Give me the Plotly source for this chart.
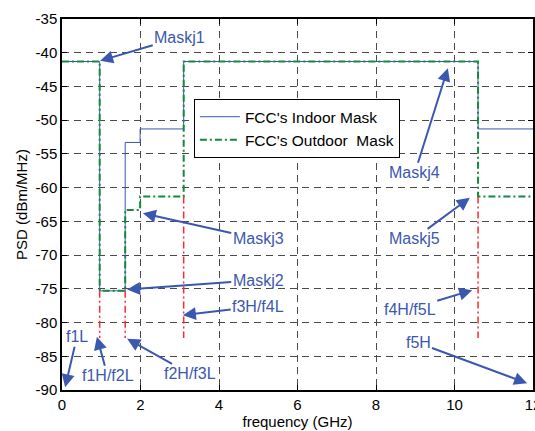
import plotly.graph_objects as go

# Mask data (GHz, dBm/MHz)
freq_edges = [0, 0.96, 1.61, 1.99, 3.1, 10.6, 12]
indoor_psd = [-41.3, -75.3, -53.3, -51.3, -41.3, -51.3, -51.3]
outdoor_psd = [-41.3, -75.3, -63.3, -61.3, -41.3, -61.3, -61.3]

# band-edge markers (red dash-dot verticals)
edge_freq = [0.96, 1.61, 3.1, 10.6]
edge_top = [-75.3, -75.3, -61.3, -61.3]
edge_bottom = [-82.3, -82.3, -82.3, -82.3]

# annotations: label, arrow head (x,y), text center (x,y)
ann_labels = ["Maskj1", "Maskj3", "Maskj2", "f3H/f4L", "f1L", "f1H/f2L", "f2H/f3L",
              "Maskj4", "Maskj5", "f4H/f5L", "f5H"]
ann_head_x = [0.97, 2.06, 1.66, 3.08, 0.08, 0.89, 1.66, 9.83, 10.39, 10.45, 11.85]
ann_head_y = [-41.2, -63.8, -75.1, -78.9, -89.6, -82.1, -82.4, -42.3, -61.5, -75.2, -89.0]
ann_text_x = [3.0, 5.0, 5.0, 5.0, 0.38, 1.16, 3.26, 8.99, 8.97, 8.86, 9.07]
ann_text_y = [-37.7, -67.6, -73.7, -77.6, -82.1, -87.9, -87.6, -57.8, -67.6, -78.0, -83.0]

x_ticks = [0, 2, 4, 6, 8, 10, 12]
x_tick_labels = ["0", "2", "4", "6", "8", "10", "12"]
y_ticks = [-90, -85, -80, -75, -70, -65, -60, -55, -50, -45, -40, -35]
y_tick_labels = ["-90", "-85", "-80", "-75", "-70", "-65", "-60", "-55", "-50", "-45", "-40", "-35"]

BLUE = "#3a58b0"
GREEN = "#138a3c"
RED = "#ff2a2a"
FONT = "Liberation Sans, Arial, Helvetica, sans-serif"

fig = go.Figure()

fig.add_trace(go.Scatter(
    x=freq_edges, y=indoor_psd, mode="lines", line_shape="hv",
    line=dict(color=BLUE, width=1), name="FCC's Indoor Mask"))

fig.add_trace(go.Scatter(
    x=freq_edges, y=outdoor_psd, mode="lines", line_shape="hv",
    line=dict(color=GREEN, width=2, dash="7px,3px,2px,3px"),
    name="FCC's Outdoor\u00a0 Mask"))

rx, ry = [], []
for f, t, b in zip(edge_freq, edge_top, edge_bottom):
    rx += [f, f, None]
    ry += [t, b, None]
fig.add_trace(go.Scatter(
    x=rx, y=ry, mode="lines", line=dict(color=RED, width=1.5, dash="7px,3px,2px,3px"),
    showlegend=False))

for lab, hx, hy, tx, ty in zip(ann_labels, ann_head_x, ann_head_y, ann_text_x, ann_text_y):
    fig.add_annotation(
        x=hx, y=hy, ax=tx, ay=ty, axref="x", ayref="y", xref="x", yref="y",
        text=lab, showarrow=True, arrowhead=2, arrowsize=1.3, arrowwidth=2,
        arrowcolor=BLUE, font=dict(color=BLUE, size=16, family=FONT))

axis_common = dict(
    showline=True, linecolor="black", linewidth=1.5, mirror="ticks",
    ticks="inside", ticklen=5, tickcolor="black",
    showgrid=True, gridcolor="#4a4a4a", griddash="7px,5px", gridwidth=1,
    zeroline=False, tickfont=dict(size=15, color="black", family=FONT),
    ticklabeloverflow="allow", automargin=False)

fig.update_xaxes(range=[0, 12], tickvals=x_ticks, ticktext=x_tick_labels,
                 title=dict(text="frequency (GHz)", font=dict(size=15, family=FONT, color="black"),
                            standoff=4),
                 **axis_common)
fig.update_yaxes(range=[-90, -35], tickvals=y_ticks, ticktext=y_tick_labels,
                 title=dict(text="PSD (dBm/MHz)", font=dict(size=15, family=FONT, color="black"),
                            standoff=4),
                 **axis_common)

fig.update_layout(
    width=535, height=431,
    margin=dict(l=62, r=2, t=19, b=41),
    plot_bgcolor="white", paper_bgcolor="white",
    showlegend=True,
    legend=dict(x=0.28, y=0.784, xanchor="left", yanchor="top",
                bgcolor="white", bordercolor="black", borderwidth=1,
                font=dict(size=15.5, family=FONT, color="black"),
                tracegroupgap=0, itemwidth=40),
)

fig.write_html("out.html", config={"displayModeBar": False},
               post_script="document.body.style.margin='0';document.body.style.padding='0';")
